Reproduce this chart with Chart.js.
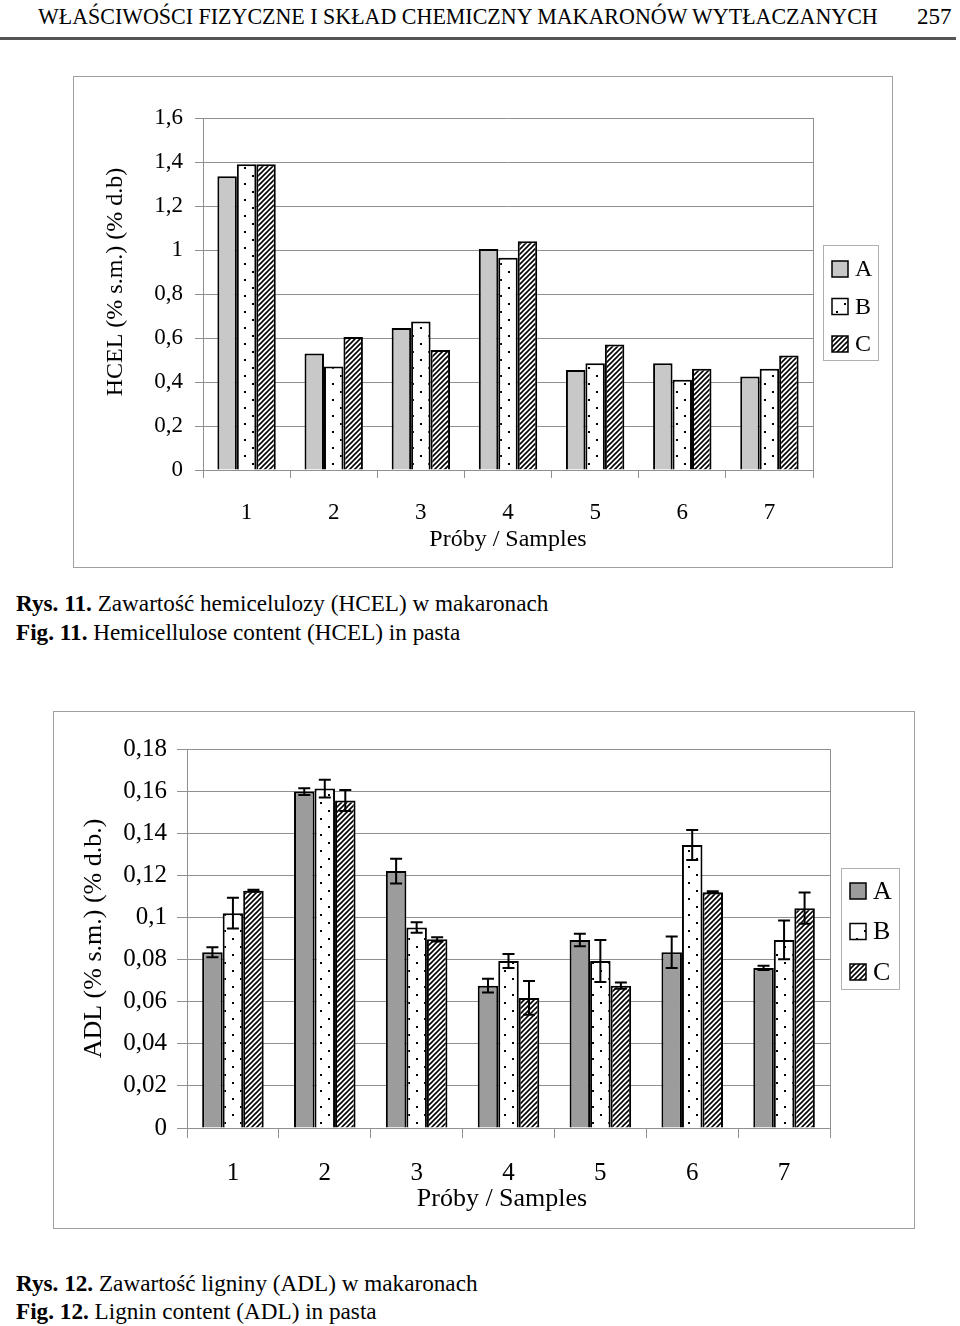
<!DOCTYPE html>
<html>
<head>
<meta charset="utf-8">
<script src="https://cdn.jsdelivr.net/npm/chart.js@4.4.0/dist/chart.umd.min.js"></script>
<style>
    body { margin: 0; background: #fff; }
    #page { position: relative; width: 960px; height: 1326px; overflow: hidden; font-family: 'Liberation Serif', serif; color: #000; }
    .txt { position: absolute; white-space: nowrap; line-height: 28px; }
    .cap { font-size: 23.2px; }
    .frame { position: absolute; border: 1px solid #a0a0a0; box-sizing: border-box; }
    canvas { position: absolute; }
</style>
</head>
<body>
<div id="page">
    <div class="txt" id="runhead" style="left:38px; top:3px; font-size:23px; transform-origin:0 0;">WŁAŚCIWOŚCI FIZYCZNE I SKŁAD CHEMICZNY MAKARONÓW WYTŁACZANYCH</div>
    <div class="txt" style="left:917px; top:3px; font-size:23px;">257</div>
    <div style="position:absolute; left:0; top:37px; width:956px; height:3px; background:#555;"></div>

    <div class="frame" style="left:73px; top:76px; width:820px; height:492px;"></div>
    <canvas id="hcelChart" width="820" height="492" style="left:73px; top:76px;"></canvas>

    <div class="txt cap" style="left:16px; top:589px;"><b>Rys. 11.</b> Zawartość hemicelulozy (HCEL) w makaronach</div>
    <div class="txt cap" style="left:16px; top:618px;"><b>Fig. 11.</b> Hemicellulose content (HCEL) in pasta</div>

    <div class="frame" style="left:53px; top:711px; width:862px; height:518px;"></div>
    <canvas id="adlChart" width="862" height="518" style="left:53px; top:711px;"></canvas>

    <div class="txt cap" style="left:16px; top:1269px;"><b>Rys. 12.</b> Zawartość ligniny (ADL) w makaronach</div>
    <div class="txt cap" style="left:16px; top:1297px;"><b>Fig. 12.</b> Lignin content (ADL) in pasta</div>
</div>

<script>
// data
const samples = ['1', '2', '3', '4', '5', '6', '7'];
const seriesNames = ['A', 'B', 'C'];

const hcelA = [1.335, 0.53, 0.645, 1.005, 0.455, 0.485, 0.425];
const hcelB = [1.39, 0.47, 0.675, 0.965, 0.485, 0.41, 0.46];
const hcelC = [1.39, 0.605, 0.545, 1.04, 0.57, 0.46, 0.52];
const hcelTicks = [0, 0.2, 0.4, 0.6, 0.8, 1, 1.2, 1.4, 1.6];

const adlA = [0.0835, 0.1598, 0.122, 0.0676, 0.0893, 0.0835, 0.076];
const adlB = [0.102, 0.1612, 0.0952, 0.0793, 0.0793, 0.1344, 0.0893];
const adlC = [0.1127, 0.1555, 0.0896, 0.0618, 0.0676, 0.112, 0.1044];
const adlErrA = [0.0024, 0.0016, 0.0059, 0.0033, 0.003, 0.0075, 0.001];
const adlErrB = [0.0073, 0.0042, 0.0025, 0.0033, 0.01, 0.0071, 0.0092];
const adlErrC = [0.0005, 0.005, 0.001, 0.008, 0.0015, 0.0005, 0.0074];
const adlTicks = [0, 0.02, 0.04, 0.06, 0.08, 0.1, 0.12, 0.14, 0.16, 0.18];

// squeeze the running head to the printed width
const head = document.getElementById('runhead');
head.style.transform = 'scaleX(' + (840 / head.offsetWidth) + ')';

Chart.defaults.font.family = "'Liberation Serif', serif";
Chart.defaults.color = '#000';

// fill patterns
function dotPattern() {
    const c = document.createElement('canvas');
    c.width = 16; c.height = 16;
    const g = c.getContext('2d');
    g.fillStyle = '#fff';
    g.fillRect(0, 0, 16, 16);
    g.fillStyle = '#000';
    g.fillRect(3, 3, 2, 2);
    g.fillRect(11, 11, 2, 2);
    return g.createPattern(c, 'repeat');
}

function hatchPattern() {
    const s = 5;
    const c = document.createElement('canvas');
    c.width = s; c.height = s;
    const g = c.getContext('2d');
    g.fillStyle = '#fff';
    g.fillRect(0, 0, s, s);
    g.strokeStyle = '#000';
    g.lineWidth = 1.6;
    g.beginPath();
    g.moveTo(0, s); g.lineTo(s, 0);
    g.moveTo(-1, 1); g.lineTo(1, -1);
    g.moveTo(s - 1, s + 1); g.lineTo(s + 1, s - 1);
    g.stroke();
    return g.createPattern(c, 'repeat');
}

const dots = dotPattern();
const hatch = hatchPattern();

// error bars drawn on top of the bars
const errorBars = {
    id: 'errorBars',
    afterDatasetsDraw(chart) {
        const ctx = chart.ctx;
        const y = chart.scales.y;
        chart.data.datasets.forEach(function(ds, i) {
            if (!ds.errors) return;
            chart.getDatasetMeta(i).data.forEach(function(bar, j) {
                const hi = y.getPixelForValue(ds.data[j] + ds.errors[j]);
                const lo = y.getPixelForValue(ds.data[j] - ds.errors[j]);
                ctx.save();
                ctx.strokeStyle = '#000';
                ctx.lineWidth = 2;
                ctx.beginPath();
                ctx.moveTo(bar.x, hi); ctx.lineTo(bar.x, lo);
                ctx.moveTo(bar.x - 6, hi); ctx.lineTo(bar.x + 6, hi);
                ctx.moveTo(bar.x - 6, lo); ctx.lineTo(bar.x + 6, lo);
                ctx.stroke();
                ctx.restore();
            });
        });
    }
};

// plot area outline + framed legend on the right
const plotFrame = {
    id: 'plotFrame',
    afterDraw(chart, args, opts) {
        const ctx = chart.ctx;
        const a = chart.chartArea;
        ctx.save();
        ctx.strokeStyle = '#909090';
        ctx.lineWidth = 1;
        ctx.beginPath();
        ctx.moveTo(a.right + 0.5, a.top);
        ctx.lineTo(a.right + 0.5, a.bottom);
        ctx.stroke();

        // legend box
        ctx.strokeStyle = '#b0b0b0';
        ctx.strokeRect(opts.x + 0.5, opts.y + 0.5, opts.w, opts.h);
        ctx.font = opts.fontSize + "px 'Liberation Serif'";
        ctx.textBaseline = 'middle';
        chart.data.datasets.forEach(function(ds, i) {
            const cy = opts.y + opts.first + i * opts.gap;
            ctx.fillStyle = ds.backgroundColor;
            ctx.fillRect(opts.x + 9, cy - 8, 16, 16);
            ctx.strokeStyle = '#000';
            ctx.lineWidth = 1.5;
            ctx.strokeRect(opts.x + 9, cy - 8, 16, 16);
            ctx.fillStyle = '#000';
            ctx.fillText(ds.label, opts.x + 32, cy + 1);
        });
        ctx.restore();
    }
};

function commaLabel(v) {
    return String(Math.round(v * 1000) / 1000).replace('.', ',');
}

function barChart(id, s) {
    return new Chart(document.getElementById(id), {
        type: 'bar',
        data: {
            labels: samples,
            datasets: s.series.map(function(vals, i) {
                return {
                    label: seriesNames[i],
                    data: vals,
                    errors: s.errors ? s.errors[i] : null,
                    backgroundColor: [s.grey, dots, hatch][i],
                    borderColor: '#000',
                    borderWidth: 2,
                    barPercentage: 1,
                    categoryPercentage: 0.67
                };
            })
        },
        options: {
            responsive: false,
            animation: false,
            layout: { padding: { left: 0, top: s.top, right: s.right, bottom: 0 } },
            plugins: {
                legend: { display: false },
                tooltip: { enabled: false },
                plotFrame: s.legend
            },
            scales: {
                x: {
                    afterFit: function(scale) { scale.height = s.xHeight; },
                    grid: { offset: true, drawOnChartArea: false, color: '#909090', tickLength: s.tick },
                    border: { color: '#909090' },
                    ticks: { font: { size: s.font }, padding: s.xPad },
                    title: { display: true, text: s.xTitle, font: { size: s.titleFont }, padding: { top: 0, bottom: 14 } }
                },
                y: {
                    min: 0,
                    max: s.ticks[s.ticks.length - 1],
                    afterFit: function(scale) { scale.width = s.yWidth; },
                    afterBuildTicks: function(scale) {
                        scale.ticks = s.ticks.map(function(v) { return { value: v }; });
                    },
                    grid: { color: '#909090', tickLength: s.tick },
                    border: { color: '#909090' },
                    ticks: { font: { size: s.font }, padding: s.yPad, callback: commaLabel },
                    title: { display: true, text: s.yTitle, font: { size: s.titleFont }, padding: { top: s.yTitlePad, bottom: 0 } }
                }
            }
        },
        plugins: [errorBars, plotFrame]
    });
}

barChart('hcelChart', {
    series: [hcelA, hcelB, hcelC],
    grey: '#c8c8c8',
    ticks: hcelTicks,
    xTitle: 'Próby / Samples',
    // leading spaces nudge the rotated title up, as printed
    yTitle: '\u00a0\u00a0\u00a0\u00a0HCEL (% s.m.) (% d.b)',
    font: 23, titleFont: 24, tick: 8,
    top: 42, right: 80, xHeight: 98, yWidth: 130,
    xPad: 21, yPad: 12, yTitlePad: 28,
    legend: { x: 750, y: 169, w: 55, h: 115, first: 24, gap: 37.5, fontSize: 24 }
});

barChart('adlChart', {
    series: [adlA, adlB, adlC],
    errors: [adlErrA, adlErrB, adlErrC],
    grey: '#9c9c9c',
    ticks: adlTicks,
    xTitle: 'Próby / Samples\u00a0\u00a0',
    yTitle: 'ADL (% s.m.) (% d.b.)',
    font: 25, titleFont: 26, tick: 10,
    top: 38, right: 85, xHeight: 101, yWidth: 134,
    xPad: 20, yPad: 10, yTitlePad: 26,
    legend: { x: 788, y: 157, w: 58, h: 121, first: 23, gap: 40.5, fontSize: 26 }
});
</script>
</body>
</html>
